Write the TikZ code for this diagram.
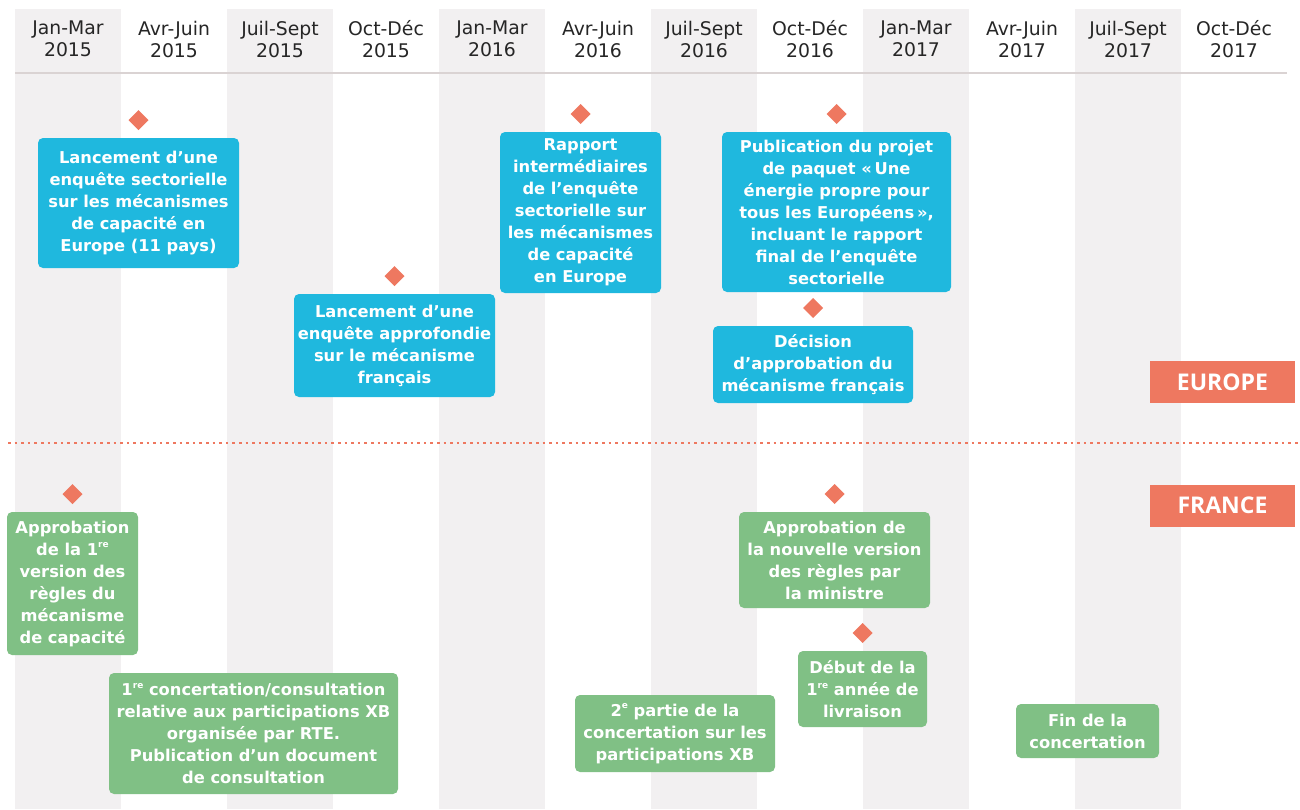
\documentclass[tikz,border=0pt]{standalone}
\usepackage{fontspec}
\setmainfont{DejaVu Sans}
\newfontfamily\tagfont{Open Sans}
\usetikzlibrary{positioning, shapes.geometric}
\definecolor{bandgray}{RGB}{242,240,241}
\definecolor{rulegray}{RGB}{218,211,211}
\definecolor{eucyan}{RGB}{31,184,222}
\definecolor{frgreen}{RGB}{128,192,133}
\definecolor{markorange}{RGB}{238,120,96}
\tikzset{
    x=1pt, y=-1pt, % one unit per pixel, y going down
    every node/.style={inner sep=0pt, outer sep=0pt},
    event/.style={rounded corners=5pt, text=white, align=center, font=\bfseries\fontsize{16.3}{22}\selectfont}, % common look of the boxes
    eubox/.style={event, fill=eucyan},
    frbox/.style={event, fill=frgreen},
    boxsize/.style 2 args={minimum width=#1pt, minimum height=#2pt},
    milestone/.style={diamond, fill=markorange, minimum width=20pt, minimum height=20pt}, % the small diamonds
    quarter/.style={align=center, text=black!85, font=\fontsize{18.8}{22}\selectfont},
    zone/.style={fill=markorange, text=white, minimum width=145pt, minimum height=42pt, font=\tagfont\bfseries\fontsize{23}{26}\selectfont},
    node distance=8pt, % gap between a diamond and its box
}
\newcommand\ordsup[1]{\raisebox{0.8ex}{\fontsize{9}{9}\selectfont #1}}
\begin{document}
\begin{tikzpicture}
\useasboundingbox (0,0) rectangle (1300,809);
% time bands and header
\foreach \k in {0,2,...,10}
    \fill[bandgray] (15+106*\k,9) rectangle ++(106,800);
\foreach \yr [count=\j from 0] in {2015,2016,2017}
    \foreach \q [count=\i from 0] in {Jan-Mar,Avr-Juin,Juil-Sept,Oct-Déc}{
        \pgfmathtruncatemacro\k{4*\j+\i}
        \node[quarter] (h\k) at (68+106*\k,39) {\q\\\yr};
    }
\draw[rulegray, line width=2pt] (15,73) -- (1287,73);
\draw[markorange, line width=2.6pt, dash pattern=on 2.6pt off 4pt] (8,443) -- (1300,443);
\node[zone] (europe) at (1222.5,382) {EUROPE};
\node[zone] (france) at (1222.5,505.5) {FRANCE};

% Europe
\node[eubox, boxsize={201}{130}] (eu1) at (138.5,203) {Lancement d’une\\enquête sectorielle\\sur les mécanismes\\de capacité en\\Europe (11 pays)};
\node[milestone, above=of eu1] (m1) {};
\node[eubox, boxsize={201}{103}] (eu2) at (394.5,345.5) {Lancement d’une\\enquête approfondie\\sur le mécanisme\\français};
\node[milestone, above=of eu2] (m2) {};
\node[eubox, boxsize={161}{161}] (eu3) at (580.5,212.5) {Rapport\\intermédiaires\\de l’enquête\\sectorielle sur\\les mécanismes\\de capacité\\en Europe};
\node[milestone, above=of eu3] (m3) {};
\node[eubox, boxsize={229}{160}] (eu4) at (836.5,212) {Publication du projet\\de paquet «\,Une\\énergie propre pour\\tous les Européens\,»,\\incluant le rapport\\final de l’enquête\\sectorielle};
\node[milestone, above=of eu4] (m4) {};
\node[eubox, boxsize={200}{77}] (eu5) at (813,364.5) {Décision\\d’approbation du\\mécanisme français};
\node[milestone, above=of eu5] (m5) {};

% France
\node[frbox, boxsize={131}{143}] (fr1) at (72.5,583.5) {Approbation\\de la 1\ordsup{re}\\version des\\règles du\\mécanisme\\de capacité};
\node[milestone, above=of fr1] (m6) {};
\node[frbox, boxsize={289}{121}] (fr2) at (253.5,733.5) {1\ordsup{re} concertation/consultation\\relative aux participations XB\\organisée par RTE.\\Publication d’un document\\de consultation};
\node[frbox, boxsize={200}{77}] (fr3) at (675,733.5) {2\ordsup{e} partie de la\\concertation sur les\\participations XB};
\node[frbox, boxsize={191}{96}] (fr4) at (834.5,560) {Approbation de\\la nouvelle version\\des règles par\\la ministre};
\node[milestone, above=of fr4] (m7) {};
\node[frbox, boxsize={129}{76}] (fr5) at (862.5,689) {Début de la\\1\ordsup{re} année de\\livraison};
\node[milestone, above=of fr5] (m8) {};
\node[frbox, boxsize={143}{54}] (fr6) at (1087.5,731) {Fin de la\\concertation};
\end{tikzpicture}
\end{document}
